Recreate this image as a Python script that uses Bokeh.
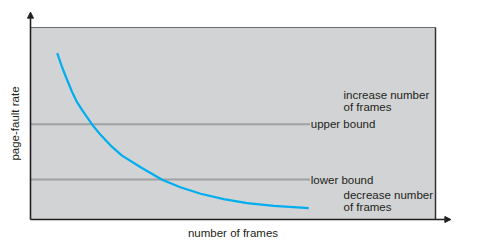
from bokeh.plotting import figure
from bokeh.models import Range1d, Arrow, NormalHead
from bokeh.core.properties import value
from bokeh.embed import file_html
from bokeh.resources import INLINE
import math

# --- data (axes run 0..100 in arbitrary units) ---
frames = [6.6, 7.8, 9.1, 10.3, 11.5, 12.8, 15.2, 17.3, 19.8, 22.6, 27.2, 32.5, 37.0, 42.0, 47.7, 53.5, 60.1, 68.7]
fault_rate = [86.6, 79.3, 72.4, 66.3, 61.1, 56.8, 49.5, 44.1, 38.5, 33.3, 27.2, 20.7, 16.8, 13.4, 10.6, 8.5, 7.1, 5.9]
bound_names = ["upper bound", "lower bound"]
bound_values = [49.6, 20.8]
bound_end = 69.0
note_lines = ["increase number", "of frames", "decrease number", "of frames"]
note_y = [65.0, 58.5, 13.0, 6.3]
x_label = "number of frames"
y_label = "page-fault rate"

FONT = value("Liberation Sans")
TXT = "#231f20"

p = figure(width=486, height=247, output_backend="svg", toolbar_location=None,
           x_axis_type=None, y_axis_type=None, min_border=0,
           x_range=Range1d(-30 / 4.05, 456 / 4.05), y_range=Range1d(-28 / 1.92, 219 / 1.92))
p.grid.visible = False
p.outline_line_color = None
p.background_fill_color = "white"
p.border_fill_color = "white"

# grey plotting box
p.quad(left=[0], right=[100], bottom=[0], top=[100], fill_color="#d1d3d4", line_color=None)
p.segment(x0=[0], y0=[100], x1=[100], y1=[100], line_color="#6d6e71", line_width=1.2)
p.segment(x0=[100], y0=[0], x1=[100], y1=[100], line_color="#333333", line_width=1.5)

# bound lines
p.segment(x0=[0, 0], y0=bound_values, x1=[bound_end, bound_end], y1=bound_values,
          line_color="#a0a1a3", line_width=2)

# curve
p.line(frames, fault_rate, line_color="#00aeef", line_width=2.2, line_join="round")

# axes with arrow heads
p.add_layout(Arrow(end=NormalHead(size=6, fill_color="#231f20", line_color="#231f20"),
                   x_start=0, y_start=0, x_end=0, y_end=108, line_color="#231f20", line_width=1.6))
p.add_layout(Arrow(end=NormalHead(size=6, fill_color="#231f20", line_color="#231f20"),
                   x_start=0, y_start=0, x_end=103.8, y_end=0, line_color="#231f20", line_width=1.6))

# texts
p.text(x=[bound_end + 0.2] * 2, y=bound_values, text=bound_names, text_font=FONT,
       text_font_size="11.5px", text_color=TXT, text_baseline="middle", text_align="left")
p.text(x=[77.3] * 4, y=note_y, text=note_lines, text_font=FONT,
       text_font_size="11.5px", text_color=TXT, text_baseline="middle", text_align="left")
p.text(x=[50.0], y=[-7.1], text=[x_label], text_font=FONT, text_font_size="11.5px",
       text_color=TXT, text_baseline="middle", text_align="center")
p.text(x=[-3.8], y=[50.0], text=[y_label], text_font=FONT, text_font_size="11.5px",
       text_color=TXT, text_baseline="middle", text_align="center", angle=math.pi / 2)

open("out.html", "w").write(file_html(p, INLINE))
